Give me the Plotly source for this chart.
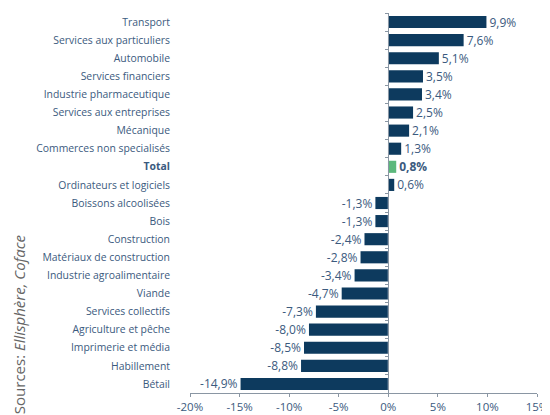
import plotly.graph_objects as go

categories = ["Transport", "Services aux particuliers", "Automobile", "Services financiers",
              "Industrie pharmaceutique", "Services aux entreprises", "Mécanique",
              "Commerces non specialisés", "Total", "Ordinateurs et logiciels",
              "Boissons alcoolisées", "Bois", "Construction", "Matériaux de construction",
              "Industrie agroalimentaire", "Viande", "Services collectifs",
              "Agriculture et pêche", "Imprimerie et média", "Habillement", "Bétail"]
values = [9.9, 7.6, 5.1, 3.5, 3.4, 2.5, 2.1, 1.3, 0.8, 0.6,
          -1.3, -1.3, -2.4, -2.8, -3.4, -4.7, -7.3, -8.0, -8.5, -8.8, -14.9]
x_ticks = [-20, -15, -10, -5, 0, 5, 10, 15]
x_tick_labels = ["-20%", "-15%", "-10%", "-5%", "0%", "5%", "10%", "15%"]

NAVY = "#0d3a5e"
GREEN = "#5cb87c"
TXT = "#3b5a7e"

colors = [GREEN if c == "Total" else NAVY for c in categories]
labels = []
for c, v in zip(categories, values):
    s = f"{v:.1f}".replace(".", ",") + "%"
    labels.append(f"<b>{s}</b>" if c == "Total" else s)
ticktext = [f"<b>{c}</b>" if c == "Total" else c for c in categories]

fig = go.Figure()
fig.add_trace(go.Bar(
    x=values, y=categories, orientation="h",
    marker=dict(color=colors, line=dict(width=0)),
    text=labels, textposition="outside", cliponaxis=False, constraintext="none",
    textfont=dict(family="Open Sans", size=12, color=TXT),
    hoverinfo="skip",
))
# invisible trace on secondary axis to draw tick marks on the zero line
fig.add_trace(go.Bar(x=[0] * len(categories), y=categories, orientation="h",
                     yaxis="y2", marker=dict(color="rgba(0,0,0,0)"), showlegend=False,
                     hoverinfo="skip"))

fig.update_layout(
    width=550, height=415,
    margin=dict(l=182, r=21, t=5, b=30),
    paper_bgcolor="white", plot_bgcolor="white",
    showlegend=False, bargap=0.33, barmode="overlay",
    font=dict(family="Open Sans", color=TXT),
    xaxis=dict(range=[-20, 15], tickvals=x_ticks, ticktext=x_tick_labels,
               showgrid=False, zeroline=False, showline=True, linecolor="#8a96a3",
               linewidth=1, ticks="outside", ticklen=3, tickcolor="#8a96a3",
               tickfont=dict(size=11.5, color=TXT)),
    yaxis=dict(categoryorder="array", categoryarray=categories, autorange="reversed",
               tickvals=categories, ticktext=ticktext, showgrid=False, zeroline=False,
               showline=False, ticks="", ticklabelstandoff=19,
               tickfont=dict(size=10.4, color=TXT)),
    yaxis2=dict(overlaying="y", anchor="free", position=20 / 35, matches="y",
                categoryorder="array", categoryarray=categories,
                showticklabels=False, showgrid=False, zeroline=False,
                showline=True, linecolor="#8a96a3", linewidth=1,
                ticks="outside", tickson="boundaries", ticklen=3, tickcolor="#8a96a3"),
    annotations=[dict(text="Sources: <i>Ellisphère, Coface</i>", textangle=-90,
                      xref="paper", yref="paper", x=-0.494, y=0.18,
                      xanchor="center", yanchor="middle", showarrow=False,
                      font=dict(family="Open Sans", size=15, color="#666666"))],
)

fig.write_html("out.html")
